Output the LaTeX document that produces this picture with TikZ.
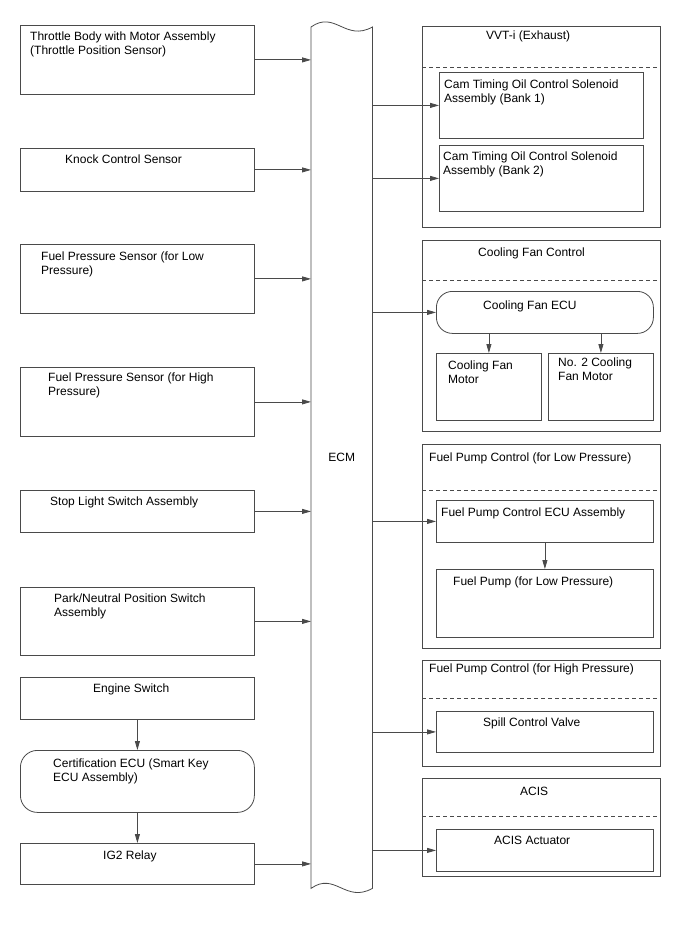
\documentclass[tikz,border=0pt]{standalone}
\usepackage{fontspec}
\setmainfont{Liberation Sans}
\usepackage{tikz}
\usetikzlibrary{positioning,arrows.meta}
\definecolor{edge}{HTML}{4A4A4A}
\tikzset{
  every node/.style={font=\fontsize{12}{14}\selectfont},
  box/.style={draw=edge,line width=0.8pt,anchor=north west,inner sep=0pt},
  rbox/.style={box,rounded corners=17pt},
  grp/.style={box},
  txt/.style={anchor=north west,inner sep=0pt,align=left},
  arr/.style={draw=edge,line width=0.8pt,-{Triangle[length=9pt,width=5pt]}},
  dashline/.style={draw=edge,line width=0.8pt,dash pattern=on 4pt off 3pt},
}

\begin{document}
\begin{tikzpicture}[x=1pt,y=-1pt]
\useasboundingbox[fill=white] (0,0) rectangle (688,949);

% left column
\node[box,minimum width=234pt,minimum height=69pt] (tbody) at (20,25) {};
\node[txt] (tbodyt) at (30,32) {Throttle Body with Motor Assembly\\(Throttle Position Sensor)};
\node[box,minimum width=234pt,minimum height=43pt] (knock) at (20,148) {};
\node[txt] (knockt) at (65,155) {Knock Control Sensor};
\node[box,minimum width=234pt,minimum height=69pt] (fplow) at (20,244) {};
\node[txt] (fplowt) at (41,252) {Fuel Pressure Sensor (for Low\\Pressure)};
\node[box,minimum width=234pt,minimum height=69pt] (fphigh) at (20,367) {};
\node[txt] (fphight) at (48,373) {Fuel Pressure Sensor (for High\\Pressure)};
\node[box,minimum width=234pt,minimum height=42pt] (stop) at (20,490) {};
\node[txt] (stopt) at (50,497) {Stop Light Switch Assembly};
\node[box,minimum width=234pt,minimum height=68pt] (park) at (20,587) {};
\node[txt] (parkt) at (54,594) {Park/Neutral Position Switch\\Assembly};
\node[box,minimum width=234pt,minimum height=42pt] (engsw) at (20,677) {};
\node[txt] (engswt) at (93,684) {Engine Switch};
\node[rbox,minimum width=234pt,minimum height=62pt] (cert) at (20,750) {};
\node[txt] (certt) at (53,759) {Certification ECU (Smart Key\\ECU Assembly)};
\node[box,minimum width=234pt,minimum height=41pt] (ig2) at (20,843) {};
\node[txt] (ig2t) at (103,851) {IG2 Relay};

% ECM
\node[anchor=north west,inner sep=0pt,minimum width=61pt,minimum height=861pt] (ecm) at (311,27) {ECM};
\draw[draw=edge,line width=0.8pt] (ecm.north west) .. controls +(24,-17) and +(-27,15) .. (ecm.north east)
  -- (ecm.south east) .. controls +(-27,15) and +(24,-17) .. (ecm.south west) -- cycle;

% right column: VVT-i
\node[grp,minimum width=238pt,minimum height=201pt] (gvvt) at (422,26) {};
\node[txt] (gvvtt) at (486,31) {VVT-i (Exhaust)};
\draw[dashline] (gvvt.west |- 0,67) -- (gvvt.east |- 0,67);
\node[box,minimum width=204pt,minimum height=66pt] (cam1) at (439,72) {};
\node[txt] (cam1t) at (444,80) {Cam Timing Oil Control Solenoid\\Assembly (Bank 1)};
\node[box,minimum width=204pt,minimum height=66pt] (cam2) at (439,145) {};
\node[txt] (cam2t) at (443,152) {Cam Timing Oil Control Solenoid\\Assembly (Bank 2)};

% cooling fan
\node[grp,minimum width=238pt,minimum height=191pt] (gfan) at (422,240) {};
\node[txt] (gfant) at (478,248) {Cooling Fan Control};
\draw[dashline] (gfan.west |- 0,280) -- (gfan.east |- 0,280);
\node[rbox,rounded corners=16pt,minimum width=217pt,minimum height=42pt] (fanecu) at (436,291) {};
\node[txt] (fanecut) at (483,301) {Cooling Fan ECU};
\node[box,minimum width=105pt,minimum height=67pt] (motor1) at (436,353) {};
\node[txt] (motor1t) at (448,361) {Cooling Fan\\Motor};
\node[box,minimum width=105pt,minimum height=67pt] (motor2) at (548,353) {};
\node[txt] (motor2t) at (558,358) {No. 2 Cooling\\Fan Motor};

% fuel pump low
\node[grp,minimum width=238pt,minimum height=204pt] (gfpl) at (422,444) {};
\node[txt] (gfplt) at (429,453) {Fuel Pump Control (for Low Pressure)};
\draw[dashline] (gfpl.west |- 0,490) -- (gfpl.east |- 0,490);
\node[box,minimum width=217pt,minimum height=42pt] (fpecu) at (436,500) {};
\node[txt] (fpecut) at (441,508) {Fuel Pump Control ECU Assembly};
\node[box,minimum width=217pt,minimum height=68pt] (fpump) at (436,569) {};
\node[txt] (fpumpt) at (453,577) {Fuel Pump (for Low Pressure)};

% fuel pump high
\node[grp,minimum width=238pt,minimum height=106pt] (gfph) at (422,660) {};
\node[txt] (gfpht) at (429,664) {Fuel Pump Control (for High Pressure)};
\draw[dashline] (gfph.west |- 0,698) -- (gfph.east |- 0,698);
\node[box,minimum width=217pt,minimum height=41pt] (spill) at (436,711) {};
\node[txt] (spillt) at (483,718) {Spill Control Valve};

% ACIS
\node[grp,minimum width=238pt,minimum height=98pt] (gacis) at (422,778) {};
\node[txt] (gacist) at (520,787) {ACIS};
\draw[dashline] (gacis.west |- 0,816) -- (gacis.east |- 0,816);
\node[box,minimum width=217pt,minimum height=42pt] (acisact) at (436,829) {};
\node[txt] (acisactt) at (494,836) {ACIS Actuator};

% inputs
\foreach \src in {tbody,knock,fplow,fphigh,stop,park,ig2}
  \draw[arr] (\src.east) -- (\src.east -| ecm.west);
\draw[arr] (engsw.south) -- (cert.north);
\draw[arr] (cert.south) -- (ig2.north);

% outputs
\foreach \dst in {cam1,cam2,fanecu,fpecu,spill,acisact}
  \draw[arr] (\dst.west -| ecm.east) -- (\dst.west);
\draw[arr] (fanecu.south -| motor1) -- (motor1.north);
\draw[arr] (fanecu.south -| motor2) -- (motor2.north);
\draw[arr] (fpecu.south) -- (fpump.north);
\end{tikzpicture}
\end{document}
